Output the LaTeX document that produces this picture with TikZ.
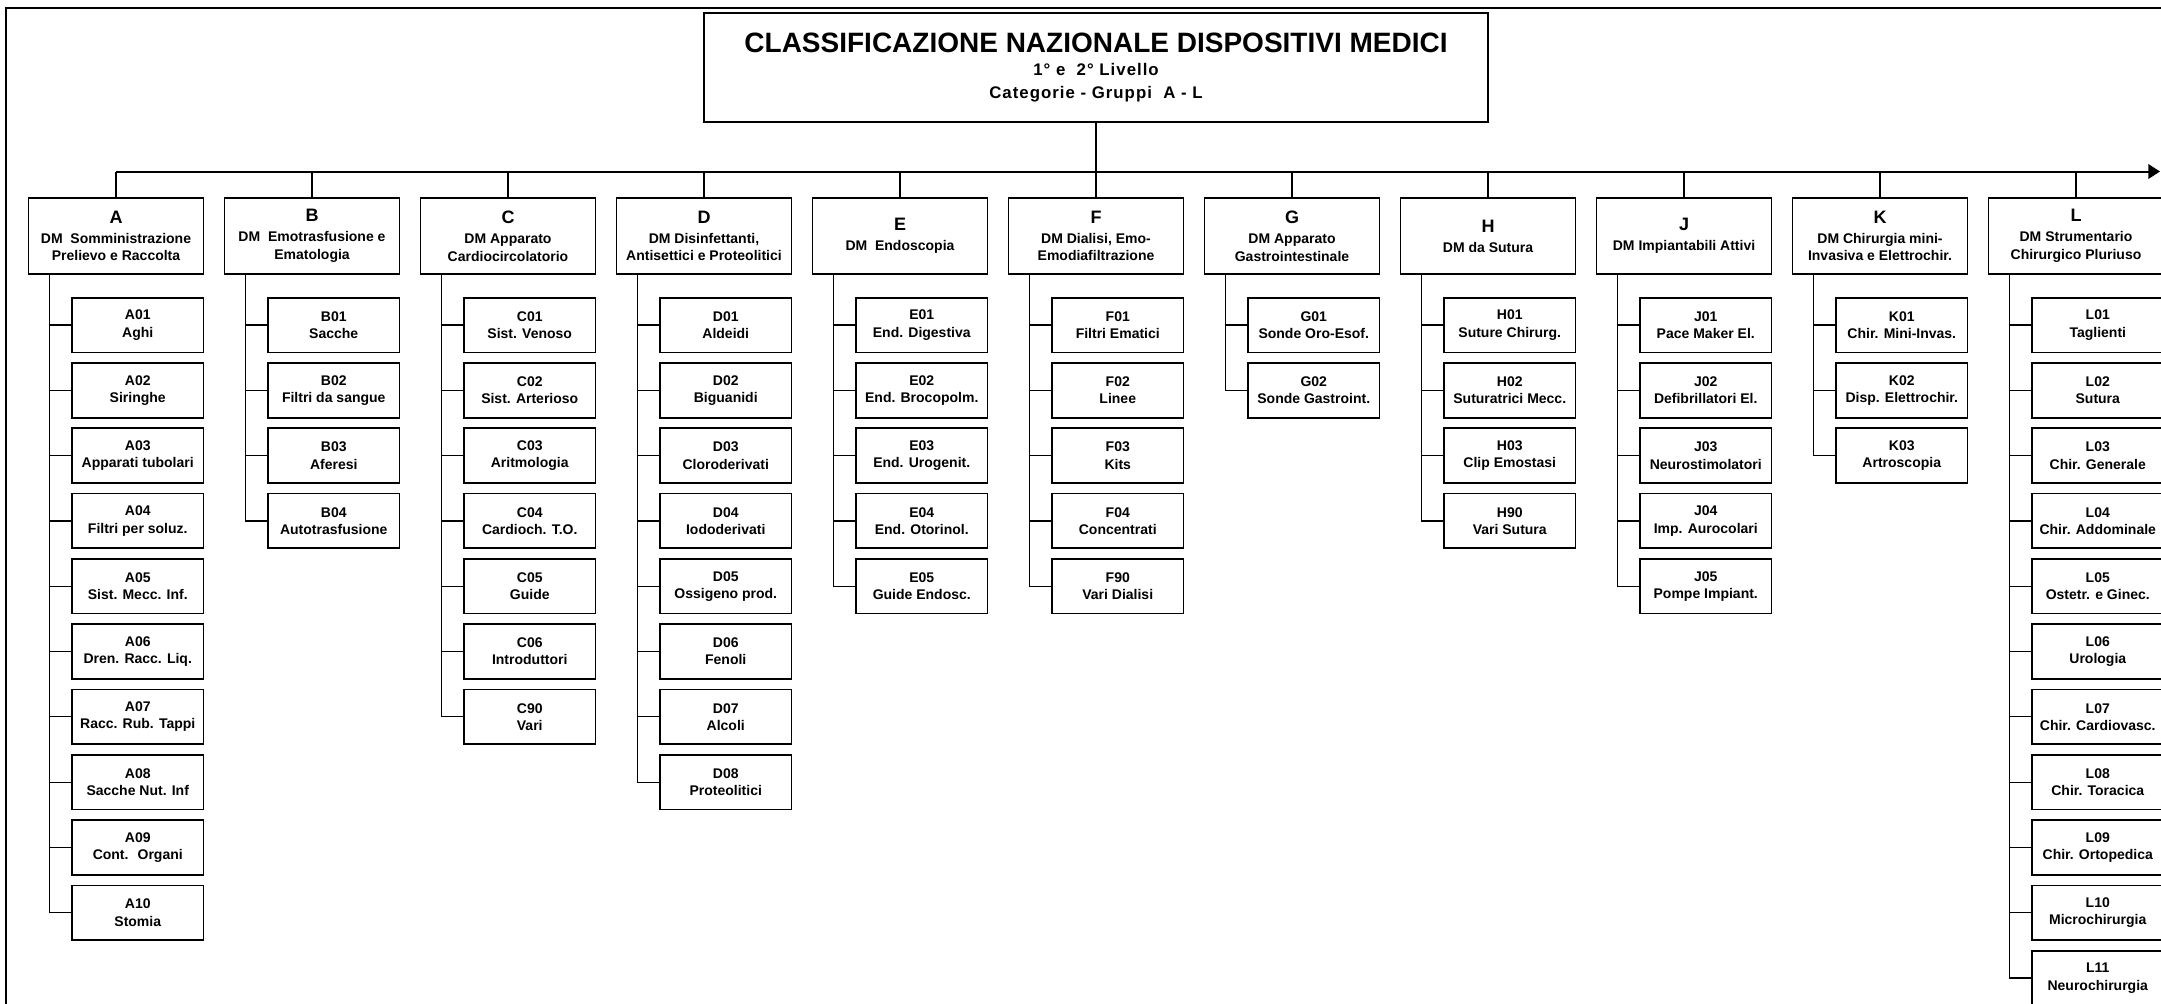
\documentclass[tikz,border=0pt]{standalone}
\usepackage{fontspec}
\setmainfont{Liberation Sans}
\newfontfamily\spacedfont[LetterSpace=6]{Liberation Sans}
\usetikzlibrary{arrows.meta}

\tikzset{
  catbox/.style={draw, line width=0.85pt, minimum width=87.5pt, minimum height=38pt,
    inner sep=0pt, align=center, font=\bfseries\fontsize{7}{8.8}\selectfont},
  subbox/.style={draw, line width=0.85pt, minimum width=65.75pt, minimum height=27.35pt,
    inner sep=0pt, align=center, anchor=north east, font=\bfseries\fontsize{7}{8.6}\selectfont},
  link/.style={line width=0.6pt}
}
\def\catletter#1{{\fontsize{9}{9}\selectfont #1}\\[1.2pt]}
% Syntax: \subgroups{category node}{code/label,code/label,...}
\def\subgroups#1#2{%
    \foreach \code/\gname [count=\idx] in {#2}
    { \node[subbox] (\code) at ([yshift={-11pt-32.65pt*(\idx-1)}]#1.south east) {\code\\\gname};
      \draw[link] ([xshift=11pt]#1.south west) |- (\code.west); }}

\begin{document}
\begin{tikzpicture}[x=1pt,y=-1pt]

\useasboundingbox (0,0) rectangle (1080.5,501.5);
\clip (0,0) rectangle (1080.5,501.5);

%\draw[draw=red] (0,0) rectangle (1080.5,501.5);
\draw[line width=0.65pt] (3,520) |- (1100,4);

\node[draw, line width=0.85pt, minimum width=392pt, minimum height=54.5pt, inner sep=0pt,
  align=center, font=\bfseries\fontsize{8.4}{11.7}\selectfont] (title) at (548,33.75)
  {{\fontsize{14}{14}\selectfont CLASSIFICAZIONE NAZIONALE DISPOSITIVI MEDICI}\\
   {\spacedfont 1° e~ 2° Livello}\\{\spacedfont Categorie - Gruppi~ A - L}};

\node[catbox] (A) at (58,118)   {\catletter{A}DM~ Somministrazione\\Prelievo e Raccolta};
\node[catbox] (B) at (156,118)  {\catletter{B}DM~ Emotrasfusione e\\Ematologia};
\node[catbox] (C) at (254,118)  {\catletter{C}DM Apparato\\Cardiocircolatorio};
\node[catbox] (D) at (352,118)  {\catletter{D}DM Disinfettanti,\\Antisettici e Proteolitici};
\node[catbox] (E) at (450,118)  {\catletter{E}DM~ Endoscopia};
\node[catbox] (F) at (548,118)  {\catletter{F}DM Dialisi, Emo-\\Emodiafiltrazione};
\node[catbox] (G) at (646,118)  {\catletter{G}DM Apparato\\Gastrointestinale};
\node[catbox] (H) at (744,118)  {\catletter{H}DM da Sutura};
\node[catbox] (J) at (842,118)  {\catletter{J}DM Impiantabili Attivi};
\node[catbox] (K) at (940,118)  {\catletter{K}DM Chirurgia mini-\\Invasiva e Elettrochir.};
\node[catbox] (L) at (1038,118) {\catletter{L}DM Strumentario\\Chirurgico Pluriuso};

\coordinate (busend) at (1080,85.75);
\draw[line width=1pt] (title.south) -- (title.south |- busend);
\draw[line width=1pt, -{Triangle[length=5.8pt,width=7.2pt]}] (A.north |- busend) -- (busend);
\foreach \c in {A,B,C,D,E,F,G,H,J,K,L}
  \draw[line width=0.7pt] (\c.north) -- (\c.north |- busend);

\subgroups{A}{A01/Aghi, A02/Siringhe, A03/Apparati tubolari, A04/Filtri per soluz.,
  A05/Sist. Mecc. Inf., A06/Dren. Racc. Liq., A07/Racc. Rub. Tappi, A08/Sacche Nut. Inf,
  A09/Cont.~ Organi, A10/Stomia}
\subgroups{B}{B01/Sacche, B02/Filtri da sangue, B03/Aferesi, B04/Autotrasfusione}
\subgroups{C}{C01/Sist. Venoso, C02/Sist. Arterioso, C03/Aritmologia, C04/Cardioch. T.O.,
  C05/Guide, C06/Introduttori, C90/Vari}
\subgroups{D}{D01/Aldeidi, D02/Biguanidi, D03/Cloroderivati, D04/Iododerivati,
  D05/Ossigeno prod., D06/Fenoli, D07/Alcoli, D08/Proteolitici}
\subgroups{E}{E01/End. Digestiva, E02/End. Brocopolm., E03/End. Urogenit.,
  E04/End. Otorinol., E05/Guide Endosc.}
\subgroups{F}{F01/Filtri Ematici, F02/Linee, F03/Kits, F04/Concentrati, F90/Vari Dialisi}
\subgroups{G}{G01/Sonde Oro-Esof., G02/Sonde Gastroint.}
\subgroups{H}{H01/Suture Chirurg., H02/Suturatrici Mecc., H03/Clip Emostasi, H90/Vari Sutura}
\subgroups{J}{J01/Pace Maker El., J02/Defibrillatori El., J03/Neurostimolatori,
  J04/Imp. Aurocolari, J05/Pompe Impiant.}
\subgroups{K}{K01/Chir. Mini-Invas., K02/Disp. Elettrochir., K03/Artroscopia}
\subgroups{L}{L01/Taglienti, L02/Sutura, L03/Chir. Generale, L04/Chir. Addominale,
  L05/Ostetr. e Ginec., L06/Urologia, L07/Chir. Cardiovasc., L08/Chir. Toracica,
  L09/Chir. Ortopedica, L10/Microchirurgia, L11/Neurochirurgia}

\end{tikzpicture}
\end{document}
